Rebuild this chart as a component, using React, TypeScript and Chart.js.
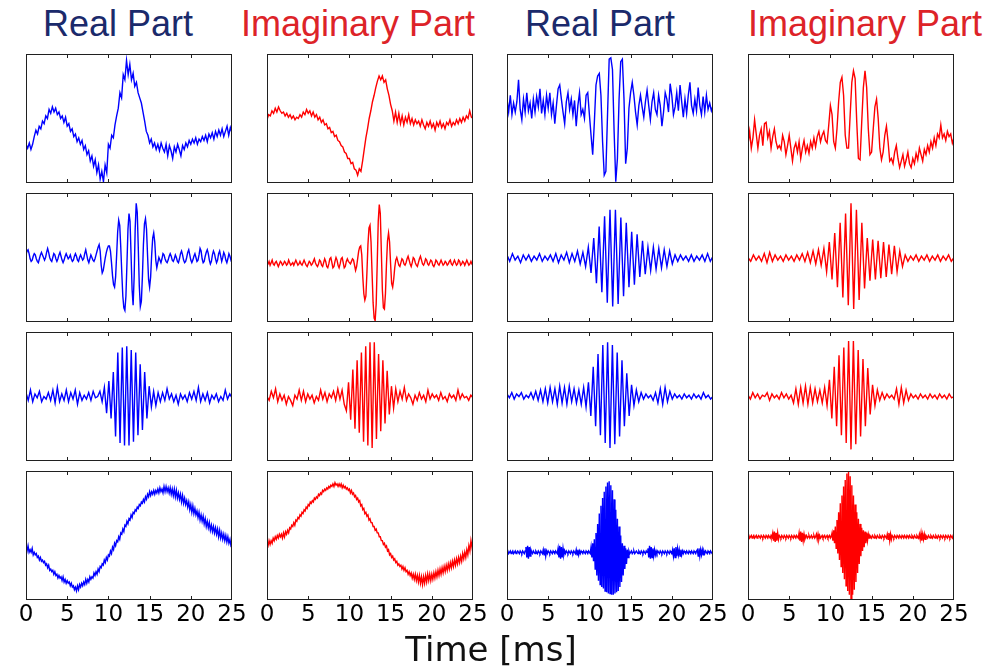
import { useEffect, useRef } from "react";
import { Chart, registerables } from "chart.js";

Chart.register(...registerables);

// Shared time axis (ms) and its labelled ticks
const TIME_MAX = 25;
const TIME_TICKS = [0, 5, 10, 15, 20, 25];

// Column headings
const COLUMN_TITLES = ["Real Part", "Imaginary Part", "Real Part", "Imaginary Part"];
const AXIS_LABEL = "Time [ms]";

// Each trace is sampled uniformly over 0–25 ms; values are relative amplitude (0–100 of the panel range)

// Column A, real part
const realA1 = [
  30, 27, 31, 26, 30, 36, 41, 38, 44, 42,
  48, 46, 52, 50, 57, 54, 59, 55, 58, 53,
  55, 50, 52, 47, 51, 44, 46, 40, 42, 36,
  38, 32, 35, 30, 33, 26, 29, 22, 25, 17,
  21, 13, 18, 8, 14, 3, 9, 1, 14, 8,
  30, 27, 37, 35, 45, 52, 58, 70, 66, 84,
  80, 95, 84, 92, 80, 85, 75, 78, 70, 66,
  62, 55, 48, 40, 37, 31, 34, 28, 31, 26,
  30, 25, 31, 27, 24, 30, 21, 29, 25, 19,
  28, 24, 30, 26, 21, 29, 26, 31, 28, 33,
  30, 34, 31, 35, 30, 34, 32, 36, 33, 37,
  32, 38, 35, 39, 34, 40, 36, 41, 37, 42,
  36, 40, 44, 37, 43, 39,
];
const realA2 = [
  52, 55, 56, 53, 49, 47, 48, 51, 53, 52, 49, 47, 46, 49, 52, 54,
  52, 50, 48, 50, 54, 57, 54, 50, 48, 47, 50, 53, 52, 49, 47, 49,
  52, 54, 51, 48, 46, 48, 51, 53, 51, 49, 50, 52, 49, 47, 48, 51,
  53, 51, 48, 47, 50, 52, 50, 48, 49, 53, 56, 52, 48, 46, 49, 52,
  50, 48, 47, 49, 52, 55, 58, 60, 55, 44, 38, 40, 45, 50, 54, 57,
  59, 59, 55, 46, 36, 29, 27, 35, 52, 70, 79, 75, 58, 38, 20, 11,
  9, 20, 45, 72, 84, 78, 52, 25, 13, 35, 72, 92, 85, 58, 28, 12,
  16, 35, 60, 76, 80, 72, 52, 33, 27, 35, 52, 65, 69, 62, 48, 42,
  46, 50, 48, 46, 49, 53, 52, 49, 47, 46, 48, 51, 53, 51, 48, 47,
  49, 52, 50, 47, 46, 49, 53, 55, 52, 48, 46, 47, 50, 54, 56, 52,
  48, 46, 48, 51, 53, 50, 47, 48, 52, 57, 55, 49, 46, 47, 51, 54,
  56, 53, 48, 45, 47, 52, 55, 53, 49, 46, 48, 53, 55, 51, 47, 50,
  54, 52, 48, 46, 49, 53, 51, 48, 50,
];
const realA3 = [
  53, 47, 55, 46, 52, 49, 54, 46, 50, 48,
  53, 47, 55, 45, 57, 46, 52, 47, 55, 46,
  53, 48, 55, 44, 53, 47, 51, 48, 53, 47,
  54, 49, 50, 54, 46, 57, 37, 62, 33, 69,
  19, 84, 14, 88, 12, 89, 12, 86, 15, 84,
  20, 75, 24, 69, 33, 58, 42, 54, 43, 53,
  46, 53, 47, 56, 48, 52, 46, 51, 44, 52,
  48, 51, 46, 53, 48, 54, 47, 57, 46, 52,
  47, 53, 45, 51, 48, 52, 46, 50, 47, 55,
  48, 52, 49,
];
const realA4 = [
  41, 38, 42, 37, 39, 37, 40, 35, 37, 35, 36, 33, 34, 31, 33, 30,
  31, 29, 30, 27, 28, 25, 27, 23, 24, 22, 23, 20, 22, 19, 20, 17,
  19, 17, 18, 15, 18, 14, 16, 13, 15, 13, 14, 11, 13, 10, 11, 8,
  10, 7, 11, 8, 12, 10, 13, 11, 14, 12, 16, 13, 16, 14, 18, 16,
  18, 17, 21, 19, 22, 20, 24, 22, 26, 25, 28, 27, 31, 29, 33, 31,
  35, 34, 38, 36, 41, 39, 44, 42, 46, 45, 49, 47, 52, 51, 55, 53,
  58, 57, 61, 59, 63, 62, 66, 64, 68, 67, 70, 69, 72, 71, 74, 73,
  76, 75, 78, 76, 80, 78, 82, 80, 84, 81, 84, 82, 85, 82, 85, 83,
  86, 83, 87, 84, 86, 83, 88, 84, 88, 84, 87, 83, 87, 82, 86, 81,
  86, 80, 85, 79, 83, 78, 82, 76, 81, 75, 79, 74, 77, 72, 76, 70,
  74, 68, 73, 67, 71, 66, 69, 64, 68, 62, 66, 61, 65, 59, 63, 57,
  61, 56, 60, 54, 58, 53, 57, 52, 56, 51, 55, 49, 54, 48, 52, 47,
  51, 46, 50, 45, 49, 44, 47, 42, 43,
];

// Column B, imaginary part
const imagA1 = [
  49, 53, 52, 56, 54, 58, 55, 59, 56, 54,
  55, 52, 54, 51, 53, 50, 52, 49, 51, 50,
  53, 51, 55, 53, 57, 54, 56, 52, 55, 51,
  53, 49, 51, 47, 49, 45, 46, 42, 43, 39,
  40, 36, 37, 33, 32, 29, 28, 24, 23, 19,
  19, 15, 16, 11, 10, 6, 11, 9, 17, 26,
  35, 42, 50, 56, 63, 68, 74, 79, 83, 80,
  83, 78, 80, 73, 68, 61, 56, 48, 55, 47,
  54, 46, 52, 45, 51, 47, 53, 46, 50, 45,
  49, 46, 48, 44, 49, 45, 42, 47, 44, 48,
  43, 46, 41, 47, 44, 48, 43, 46, 42, 47,
  45, 49, 44, 47, 45, 49, 46, 50, 47, 51,
  48, 52, 50, 56, 51, 50,
];
const imagA2 = [
  46, 45, 47, 44, 46, 48, 45, 44, 46, 47, 45, 43, 45, 47, 46, 44,
  45, 47, 46, 44, 45, 48, 46, 44, 45, 46, 44, 46, 48, 46, 44, 45,
  47, 45, 44, 46, 48, 46, 44, 43, 45, 47, 46, 44, 45, 47, 49, 46,
  44, 43, 45, 48, 47, 44, 43, 46, 49, 47, 43, 42, 45, 49, 50, 46,
  42, 43, 47, 50, 48, 44, 42, 45, 49, 50, 46, 42, 43, 47, 49, 47,
  46, 45, 47, 49, 48, 44, 40, 43, 49, 55, 58, 59, 52, 35, 22, 17,
  20, 38, 60, 73, 75, 62, 38, 15, 3, 1, 14, 45, 78, 91, 84, 55,
  25, 11, 10, 22, 45, 63, 69, 62, 45, 30, 27, 33, 42, 48, 50, 47,
  44, 43, 46, 49, 48, 45, 44, 46, 49, 51, 48, 45, 43, 46, 50, 49,
  46, 44, 43, 46, 49, 51, 48, 45, 44, 46, 49, 48, 45, 44, 46, 48,
  47, 44, 43, 45, 48, 47, 45, 44, 46, 48, 46, 44, 45, 47, 46, 44,
  45, 47, 48, 45, 44, 46, 48, 46, 44, 45, 48, 47, 44, 45, 47, 46,
  44, 46, 48, 46, 44, 45, 47, 45, 46,
];
const imagA3 = [
  50, 47, 54, 49, 56, 46, 52, 47, 51, 44,
  50, 47, 43, 51, 48, 55, 47, 54, 46, 52,
  48, 51, 45, 50, 47, 55, 48, 53, 46, 52,
  49, 54, 47, 56, 48, 55, 44, 39, 61, 32,
  71, 25, 78, 22, 84, 15, 89, 12, 92, 10,
  92, 17, 83, 23, 78, 29, 70, 36, 58, 41,
  56, 46, 54, 48, 57, 47, 52, 49, 44, 51,
  47, 53, 48, 51, 46, 55, 48, 52, 49, 51,
  47, 53, 48, 50, 46, 52, 49, 51, 47, 55,
  48, 52, 49, 50, 47, 51, 49,
];
const imagA4 = [
  44, 42, 46, 43, 46, 44, 48, 46, 49, 47, 50, 48, 51, 49, 51, 48,
  52, 49, 53, 51, 54, 52, 56, 55, 58, 57, 60, 58, 62, 61, 64, 63,
  66, 65, 68, 67, 70, 69, 72, 71, 74, 73, 76, 75, 77, 76, 79, 78,
  80, 79, 82, 81, 83, 82, 85, 84, 86, 85, 87, 86, 88, 87, 89, 88,
  90, 88, 91, 89, 90, 88, 90, 88, 90, 87, 89, 87, 88, 86, 87, 85,
  86, 83, 85, 82, 83, 80, 81, 78, 79, 76, 77, 73, 74, 70, 71, 67,
  68, 65, 66, 62, 63, 60, 60, 57, 57, 54, 55, 52, 52, 49, 49, 46,
  46, 43, 44, 41, 42, 38, 39, 35, 36, 33, 34, 31, 32, 29, 30, 27,
  28, 26, 27, 24, 26, 23, 25, 22, 23, 20, 22, 19, 21, 17, 20, 16,
  20, 15, 19, 14, 19, 13, 18, 12, 18, 13, 19, 14, 20, 15, 20, 15,
  20, 16, 21, 17, 22, 18, 23, 19, 24, 20, 25, 21, 26, 22, 27, 23,
  28, 24, 29, 25, 30, 26, 31, 27, 32, 28, 33, 29, 34, 30, 36, 32,
  37, 33, 39, 35, 42, 38, 46, 41, 47,
];

// Column C, real part
const realB1 = [
  65, 55, 68, 53, 62, 55, 63, 80, 57, 49,
  65, 55, 70, 56, 62, 50, 65, 55, 67, 59,
  73, 54, 64, 53, 68, 58, 70, 53, 62, 46,
  60, 73, 76, 65, 55, 46, 63, 70, 57, 65,
  53, 64, 44, 60, 70, 53, 57, 50, 68, 70,
  53, 37, 22, 47, 76, 83, 85, 68, 32, 6,
  9, 53, 96, 97, 88, 40, 1, 19, 65, 94,
  96, 65, 15, 27, 58, 70, 78, 68, 55, 45,
  60, 68, 59, 51, 63, 72, 60, 49, 63, 70,
  57, 53, 68, 60, 44, 55, 70, 65, 55, 77,
  68, 53, 59, 70, 56, 76, 63, 51, 65, 54,
  68, 78, 60, 54, 65, 56, 74, 60, 53, 67,
  55, 68, 57, 62, 56, 60,
];
const realB2 = [
  52, 47, 53, 48, 51, 46, 52, 48, 52, 47,
  51, 48, 53, 47, 51, 48, 52, 47, 53, 46,
  52, 48, 54, 46, 53, 47, 55, 45, 54, 43,
  58, 38, 65, 30, 74, 23, 82, 15, 87, 12,
  87, 14, 81, 20, 77, 27, 70, 29, 68, 35,
  63, 37, 58, 40, 58, 41, 57, 42, 56, 43,
  55, 45, 52, 47, 52, 48, 51, 47, 52, 47,
  51, 48, 52, 47, 53, 47, 51,
];
const realB3 = [
  52, 49, 53, 48, 52, 50, 53, 48, 51, 49, 53, 48,
  54, 47, 55, 46, 56, 45, 57, 46, 56, 44, 58,
  45, 57, 44, 58, 46, 56, 45, 55, 44, 57, 42,
  61, 35, 73, 27, 83, 20, 90, 14, 92, 10,
  90, 13, 84, 19, 78, 27, 68, 35, 59, 43,
  55, 46, 53, 48, 52, 49, 51, 47, 53, 45,
  56, 44, 57, 46, 54, 48, 52, 49, 51, 48,
  52, 49, 51, 48, 52, 49, 51, 48, 53, 49,
  51, 48, 50,
];
const realB4 = [
  37, 38, 36, 37, 38, 36, 37, 38, 36, 37, 38, 36, 37, 38, 37, 36, 38, 37, 36, 38, 37, 36, 38,
  41, 33, 42, 32, 41, 34, 39,
  37, 36, 38, 37, 36, 38, 37, 36, 38, 37, 36, 38, 37, 36,
  39, 35, 40, 34, 38,
  36, 38, 37, 36, 38, 37, 36, 38, 37, 36, 38, 37, 36,
  40, 33, 42, 32, 41, 33, 40, 35, 38,
  36, 38, 37, 36, 38, 37, 36, 38, 37, 36, 38, 37, 36,
  39, 35, 39, 35, 38,
  36, 38, 37, 36, 38, 37, 36, 38, 37, 36, 38, 37, 36,
  41, 33, 44, 30, 47, 24, 52, 19, 59, 15, 67, 12, 73, 10, 79, 9,
  84, 7, 88, 6, 91, 5, 92, 5, 89, 4, 85, 4, 78, 5, 70, 6,
  63, 7, 57, 10, 50, 14, 44, 19, 42, 24, 40, 28, 39, 33, 38,
  36, 37, 38, 36, 37, 38, 36, 37, 38, 37, 36, 38, 37, 36, 38, 37, 36, 38, 37, 36, 38, 37,
  40, 33, 42, 32, 41, 33, 40, 34, 39, 35, 38,
  36, 38, 37, 36, 38, 37, 36, 38, 37, 36, 38, 37, 36, 38, 37, 36, 38, 37, 36,
  39, 34, 40, 33, 41, 34, 40, 35, 39, 34, 39, 35, 38,
  36, 38, 37, 36, 38, 37, 36, 38, 37, 36, 38, 37, 36, 38, 37, 36, 38,
  39, 34, 40, 34, 39, 35, 39, 35, 38,
  36, 38, 37, 36, 38, 37, 36, 38, 37, 36, 37,
];

// Column D, imaginary part
const imagB1 = [
  30, 40, 27, 35, 49, 38, 27, 37, 42, 29,
  46, 47, 35, 40, 27, 36, 42, 32, 27, 29,
  26, 37, 32, 22, 29, 37, 27, 17, 27, 31,
  24, 32, 19, 27, 33, 24, 29, 23, 32, 27,
  35, 28, 36, 40, 32, 37, 40, 33, 31, 45,
  60, 53, 32, 27, 42, 63, 78, 82, 68, 37,
  27, 27, 53, 78, 87, 81, 47, 19, 18, 47,
  74, 87, 74, 42, 22, 24, 42, 59, 65, 50,
  27, 18, 24, 37, 44, 32, 17, 19, 15, 24,
  29, 19, 12, 17, 22, 13, 18, 24, 15, 12,
  19, 15, 23, 18, 27, 22, 17, 26, 22, 29,
  24, 32, 27, 35, 29, 38, 35, 45, 35, 38,
  33, 40, 36, 38, 31, 35,
];
const imagB2 = [
  50, 47, 52, 48, 51, 47, 53, 46, 54, 47,
  52, 48, 51, 47, 52, 48, 51, 47, 52, 48,
  53, 47, 54, 46, 55, 45, 56, 44, 57, 39,
  62, 33, 69, 27, 77, 19, 84, 13, 92, 10,
  87, 17, 77, 26, 65, 32, 64, 33, 63, 34,
  62, 35, 60, 37, 59, 39, 55, 43, 52, 47,
  51, 48, 52, 47, 51, 48, 52, 47, 51, 48,
  52, 47, 51, 48, 52, 47, 50,
];
const imagB3 = [
  51, 48, 53, 49, 52, 48, 51, 50, 53, 47, 52, 49, 51, 48, 53, 49, 52, 48, 51,
  45, 56, 44, 57, 45, 58, 44, 57, 45, 56, 46, 55, 45, 57,
  43, 63, 33, 73, 27, 82, 20, 88, 14, 93, 9, 93, 13, 86, 19, 79, 27, 72, 36, 59, 43,
  55, 47, 53, 48, 52, 49, 51, 48, 56, 44, 57, 45, 55, 47, 52, 49, 51, 48, 52, 49,
  51, 48, 52, 49, 51, 48, 52, 49, 51, 48, 52, 49, 50,
];
const imagB4 = [
  49, 50, 48, 49, 50, 48, 49, 50, 48, 49, 50, 48, 49, 50, 49, 48, 50, 49, 48, 50,
  49, 48, 50, 49, 48, 50, 49, 48, 50, 49,
  52, 46, 53, 45, 52, 46, 52, 47, 50,
  49, 48, 50, 49, 48, 50, 49, 48, 50, 49, 48, 50, 49, 48, 50, 49, 48, 50, 49, 48, 50, 49, 48,
  52, 46, 53, 45, 52, 46, 51, 47,
  49, 50, 48, 49, 50, 48, 49, 50, 48, 49, 50, 48, 49, 51, 47, 51, 47, 50, 48, 49,
  50, 48, 49, 50, 48, 49, 50, 48, 49, 50, 48, 49,
  52, 46, 54, 44, 57, 40, 62, 36, 68, 31, 75, 26, 81, 21, 88, 16,
  93, 11, 98, 7, 100, 4, 96, 1, 89, 4, 81, 8, 74, 14, 68, 21,
  63, 28, 59, 34, 56, 38, 54, 41, 53, 44, 52, 46, 51,
  48, 50, 49, 48, 50, 49, 48, 50, 49, 48, 50, 49, 48, 50, 49, 48, 50, 49, 48, 50, 49, 48,
  51, 47, 52, 46, 51, 47, 50,
  49, 48, 50, 49, 48, 50, 49, 48, 50, 49, 48, 50, 49, 48, 50, 49,
  48, 50, 49, 48, 50, 49, 48, 50, 49, 48, 50, 49, 48, 50, 49, 48,
  51, 47, 52, 46, 51, 47, 51, 47, 50,
  49, 48, 50, 49, 48, 50, 49, 48, 50, 49, 48, 50, 49, 48, 50, 49, 48,
  50, 49, 48, 50, 49, 48, 50, 49, 48, 50, 49, 48, 50, 49, 48, 50, 49,
];

// Grid of traces: rows top to bottom, columns left to right
const GRID = [
  [realA1, imagA1, realB1, imagB1],
  [realA2, imagA2, realB2, imagB2],
  [realA3, imagA3, realB3, imagB3],
  [realA4, imagA4, realB4, imagB4],
];

// Layout (page pixels)
const COL_LEFT = [26, 267, 507, 748];
const ROW_TOP = [54, 193, 332, 471];
const PLOT_W = 206;
const PLOT_H = 129;
const PAD_X = 22;
const PAD_Y = 4;
const LABEL_H = 34;
const TITLE_CENTER = [118, 358, 600, 865];

const REAL_COLOR = "#0000ff";
const IMAG_COLOR = "#ff0000";
const TITLE_REAL = "#1b2a6b";
const TITLE_IMAG = "#dd2328";

// Panel frame with short inward ticks on top and bottom edges
const framePlugin = {
  id: "panelFrame",
  afterDatasetsDraw(chart: any) {
    const { ctx, chartArea: a, scales } = chart;
    const x = scales.x;
    ctx.save();
    ctx.strokeStyle = "#202020";
    ctx.lineWidth = 1;
    ctx.strokeRect(a.left + 0.5, a.top + 0.5, a.right - a.left - 1, a.bottom - a.top - 1);
    ctx.beginPath();
    for (const t of TIME_TICKS) {
      if (t === 0 || t === TIME_MAX) continue;
      const px = Math.round(x.getPixelForValue(t)) + 0.5;
      ctx.moveTo(px, a.top);
      ctx.lineTo(px, a.top + 4);
      ctx.moveTo(px, a.bottom);
      ctx.lineTo(px, a.bottom - 4);
    }
    ctx.stroke();
    ctx.restore();
  },
};

function Panel({ row, col }: { row: number; col: number }) {
  const ref = useRef<HTMLCanvasElement>(null);
  const values = GRID[row][col];
  const isBottom = row === GRID.length - 1;
  const color = col % 2 === 0 ? REAL_COLOR : IMAG_COLOR;
  const w = PLOT_W + 2 * PAD_X;
  const h = PLOT_H + PAD_Y + (isBottom ? LABEL_H : PAD_Y);

  useEffect(() => {
    const n = values.length;
    const points = values.map((v, i) => ({ x: (i * TIME_MAX) / (n - 1), y: v }));
    const chart = new Chart(ref.current as HTMLCanvasElement, {
      type: "line",
      data: {
        datasets: [
          {
            data: points,
            borderColor: color,
            borderWidth: 1.4,
            pointRadius: 0,
            tension: 0,
            fill: false,
          },
        ],
      },
      options: {
        animation: false,
        responsive: false,
        maintainAspectRatio: false,
        parsing: false,
        events: [],
        layout: {
          padding: { left: PAD_X, right: PAD_X, top: PAD_Y, bottom: isBottom ? 0 : PAD_Y },
        },
        plugins: {
          legend: { display: false },
          tooltip: { enabled: false },
          title: { display: false },
        },
        scales: {
          x: {
            type: "linear",
            min: 0,
            max: TIME_MAX,
            display: isBottom,
            grid: { display: false, drawTicks: false },
            border: { display: false },
            afterBuildTicks: (scale: any) => {
              scale.ticks = TIME_TICKS.map((v) => ({ value: v }));
            },
            afterFit: (scale: any) => {
              if (isBottom) scale.height = LABEL_H;
            },
            ticks: {
              autoSkip: false,
              maxRotation: 0,
              padding: 1,
              color: "#000000",
              font: { family: "'DejaVu Sans', sans-serif", size: 23 },
              callback: (v: any) => String(v),
            },
          },
          y: { min: 0, max: 100, display: false },
        },
      },
      plugins: [framePlugin],
    } as any);
    return () => chart.destroy();
  }, []);

  return (
    <canvas
      ref={ref}
      width={w}
      height={h}
      style={{
        position: "absolute",
        left: COL_LEFT[col] - PAD_X,
        top: ROW_TOP[row] - PAD_Y,
        width: w,
        height: h,
      }}
    />
  );
}

export default function App() {
  return (
    <div
      style={{
        position: "absolute",
        left: 0,
        top: 0,
        width: 996,
        height: 670,
        background: "#ffffff",
        overflow: "hidden",
      }}
    >
      {COLUMN_TITLES.map((t, c) => (
        <div
          key={"t" + c}
          style={{
            position: "absolute",
            left: TITLE_CENTER[c] - 200,
            width: 400,
            top: 6,
            textAlign: "center",
            fontFamily: "'Liberation Sans', Arial, sans-serif",
            fontSize: 36,
            lineHeight: "36px",
            color: c % 2 === 0 ? TITLE_REAL : TITLE_IMAG,
            whiteSpace: "nowrap",
          }}
        >
          {t}
        </div>
      ))}
      {GRID.map((r, ri) => r.map((_, ci) => <Panel key={ri + "-" + ci} row={ri} col={ci} />))}
      <div
        style={{
          position: "absolute",
          left: 291,
          width: 400,
          top: 632,
          textAlign: "center",
          fontFamily: "'DejaVu Sans', sans-serif",
          fontSize: 34,
          lineHeight: "34px",
          color: "#111111",
          whiteSpace: "nowrap",
        }}
      >
        {AXIS_LABEL}
      </div>
    </div>
  );
}
